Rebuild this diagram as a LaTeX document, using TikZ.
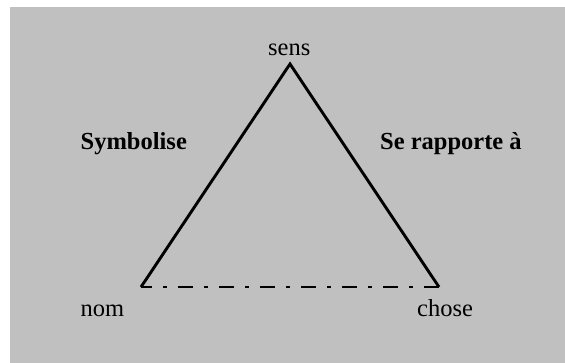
\documentclass[tikz,border=0pt]{standalone}
\usepackage{fontspec}
\setmainfont{Liberation Serif}
\definecolor{panel}{RGB}{192,192,192}
\begin{document}
\begin{tikzpicture}[x=1pt,y=1pt,
  label/.style={inner sep=0pt, anchor=base west, font=\fontsize{24.5}{28}\selectfont},
  boldlabel/.style={label, font=\fontsize{24.5}{28}\selectfont\bfseries},
  side/.style={line width=2.9pt, line join=miter},
  base/.style={line width=2.9pt, dash pattern=on 15pt off 11.5pt on 3.5pt off 11pt}]
  % page and grey panel
  \useasboundingbox (0,0) rectangle (565,363);
  \fill[panel] (10,0) rectangle (565,356);

  % corners of the triangle
  \coordinate (top)   at (290,299);
  \coordinate (left)  at (141,76);
  \coordinate (right) at (439,76);

  % labels
  \node[label]     (sens)   at (268,307) {sens};
  \node[label]     (nom)    at (80.5,46) {nom};
  \node[label]     (chose)  at (417,46) {chose};
  \node[boldlabel] (symb)   at (80.5,213) {Symbolise};
  \node[boldlabel] (rapp)   at (380,213) {Se rapporte à};

  % triangle
  \draw[side] (left) -- (top) -- (right);
  \draw[base] (right) -- (left);
\end{tikzpicture}
\end{document}
